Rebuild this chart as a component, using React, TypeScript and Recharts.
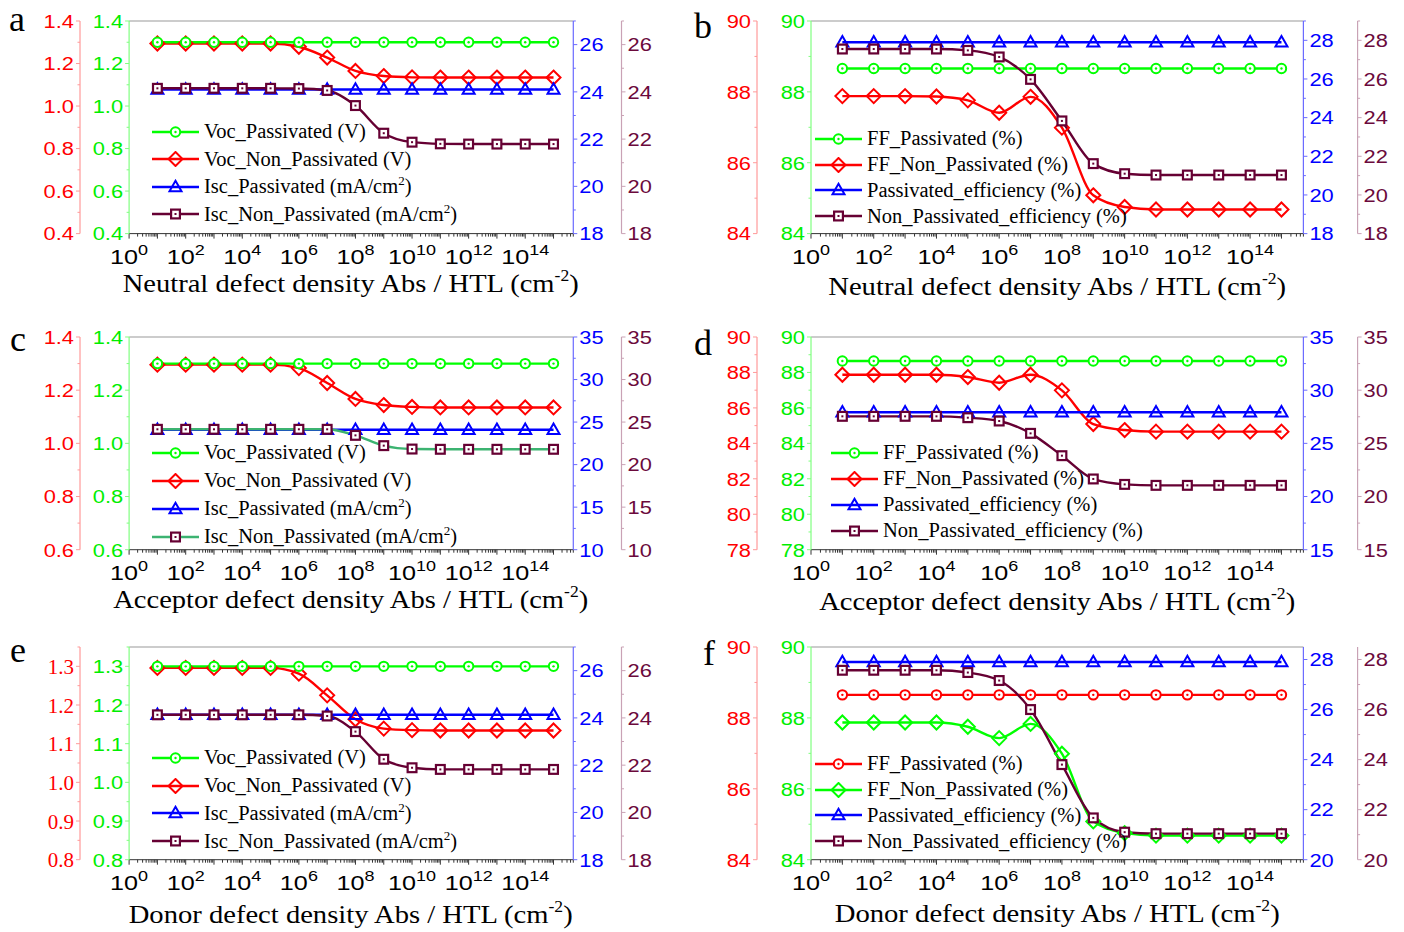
import React from 'react';
import { LineChart, Line, XAxis, YAxis, Legend, ReferenceLine } from 'recharts';

const SANS = '"Liberation Sans", Arial, sans-serif';
const SERIF = '"Liberation Serif", "Times New Roman", serif';

const RED = '#ff0000';
const GREEN = '#00ff00';
const BLUE = '#0000ff';
const WINE = '#660033';
const TEAL = '#3cb371';

// defect density (cm^-2), one point per decade
const densities = [1e1, 1e2, 1e3, 1e4, 1e5, 1e6, 1e7, 1e8, 1e9, 1e10, 1e11, 1e12, 1e13, 1e14, 1e15];
const xLabelExponents = [0, 2, 4, 6, 8, 10, 12, 14];
const X_MAX = 5e15;

// a: neutral defects
const vocPassA = [1.3, 1.3, 1.3, 1.3, 1.3, 1.3, 1.3, 1.3, 1.3, 1.3, 1.3, 1.3, 1.3, 1.3, 1.3];
const vocNonA = [1.294, 1.294, 1.294, 1.294, 1.294, 1.279, 1.228, 1.165, 1.141, 1.135, 1.134, 1.134, 1.134, 1.134, 1.134];
const iscPassA = [24.1, 24.1, 24.1, 24.1, 24.1, 24.1, 24.1, 24.1, 24.1, 24.1, 24.1, 24.1, 24.1, 24.1, 24.1];
const iscNonA = [24.15, 24.15, 24.15, 24.15, 24.15, 24.14, 24.06, 23.42, 22.25, 21.87, 21.8, 21.79, 21.79, 21.79, 21.79];

// b: neutral defects
const ffPassB = [88.66, 88.66, 88.66, 88.66, 88.66, 88.66, 88.66, 88.66, 88.66, 88.66, 88.66, 88.66, 88.66, 88.66, 88.66];
const ffNonB = [87.88, 87.88, 87.88, 87.87, 87.76, 87.41, 87.86, 86.99, 85.08, 84.75, 84.68, 84.68, 84.68, 84.68, 84.68];
const effPassB = [27.9, 27.9, 27.9, 27.9, 27.9, 27.9, 27.9, 27.9, 27.9, 27.9, 27.9, 27.9, 27.9, 27.9, 27.9];
const effNonB = [27.55, 27.55, 27.55, 27.55, 27.48, 27.14, 25.98, 23.83, 21.62, 21.1, 21.03, 21.03, 21.03, 21.03, 21.03];

// c: acceptor defects
const vocPassC = [1.3, 1.3, 1.3, 1.3, 1.3, 1.3, 1.3, 1.3, 1.3, 1.3, 1.3, 1.3, 1.3, 1.3, 1.3];
const vocNonC = [1.296, 1.296, 1.296, 1.296, 1.296, 1.283, 1.227, 1.167, 1.144, 1.137, 1.135, 1.135, 1.135, 1.135, 1.135];
const iscPassC = [24.1, 24.1, 24.1, 24.1, 24.1, 24.1, 24.1, 24.1, 24.1, 24.1, 24.1, 24.1, 24.1, 24.1, 24.1];
const iscNonC = [24.15, 24.15, 24.15, 24.15, 24.15, 24.15, 24.15, 23.44, 22.23, 21.83, 21.8, 21.8, 21.8, 21.8, 21.8];

// d: acceptor defects
const ffPassD = [88.65, 88.65, 88.65, 88.65, 88.65, 88.65, 88.65, 88.65, 88.65, 88.65, 88.65, 88.65, 88.65, 88.65, 88.65];
const ffNonD = [87.87, 87.87, 87.87, 87.87, 87.74, 87.42, 87.87, 86.99, 85.09, 84.75, 84.66, 84.66, 84.66, 84.66, 84.66];
const effPassD = [27.92, 27.92, 27.92, 27.92, 27.92, 27.92, 27.92, 27.92, 27.92, 27.92, 27.92, 27.92, 27.92, 27.92, 27.92];
const effNonD = [27.54, 27.54, 27.54, 27.54, 27.41, 27.1, 25.94, 23.84, 21.65, 21.14, 21.05, 21.05, 21.05, 21.05, 21.05];

// e: donor defects
const vocPassE = [1.3, 1.3, 1.3, 1.3, 1.3, 1.3, 1.3, 1.3, 1.3, 1.3, 1.3, 1.3, 1.3, 1.3, 1.3];
const vocNonE = [1.296, 1.296, 1.296, 1.296, 1.296, 1.281, 1.225, 1.163, 1.139, 1.135, 1.134, 1.134, 1.134, 1.134, 1.134];
const iscPassE = [24.13, 24.13, 24.13, 24.13, 24.13, 24.13, 24.13, 24.13, 24.13, 24.13, 24.13, 24.13, 24.13, 24.13, 24.13];
const iscNonE = [24.13, 24.13, 24.13, 24.13, 24.13, 24.13, 24.08, 23.42, 22.25, 21.89, 21.82, 21.82, 21.82, 21.82, 21.82];

// f: donor defects
const ffPassF = [88.65, 88.65, 88.65, 88.65, 88.65, 88.65, 88.65, 88.65, 88.65, 88.65, 88.65, 88.65, 88.65, 88.65, 88.65];
const ffNonF = [87.87, 87.87, 87.87, 87.87, 87.75, 87.43, 87.83, 86.99, 85.08, 84.75, 84.68, 84.68, 84.68, 84.68, 84.68];
const effPassF = [27.9, 27.9, 27.9, 27.9, 27.9, 27.9, 27.9, 27.9, 27.9, 27.9, 27.9, 27.9, 27.9, 27.9, 27.9];
const effNonF = [27.57, 27.57, 27.57, 27.57, 27.48, 27.16, 26.0, 23.8, 21.67, 21.1, 21.04, 21.04, 21.04, 21.04, 21.04];

type AxisId = 'red' | 'green' | 'blue' | 'wine';
type Shape = 'circle' | 'diamond' | 'triangle' | 'square';

interface Series {
  key: string;
  name: string;
  sup?: string;
  tail?: string;
  values: number[];
  axis: AxisId;
  color: string;
  markColor?: string;
  shape: Shape;
}

interface AxisCfg {
  domain: [number, number];
  majors: number[];
  digits: number;
  serif?: boolean;
}

const AXIS_STYLE: Record<AxisId, { line: string; text: string }> = {
  red: { line: '#ff9a9a', text: RED },
  green: { line: '#80ff80', text: '#00ee00' },
  blue: { line: '#6a6aff', text: BLUE },
  wine: { line: '#c9a2b5', text: '#6b0a3c' },
};

function minorTicks(cfg: AxisCfg): number[] {
  const m = cfg.majors;
  const step = m[1] - m[0];
  const out: number[] = [];
  m.forEach((v) => {
    out.push(v);
    if (v + step / 2 <= cfg.domain[1] + 1e-9) out.push(+(v + step / 2).toFixed(4));
  });
  return out;
}

const xTicks: number[] = [];
for (let e = 0; e <= 15; e++) {
  for (let k = 1; k <= 9; k++) {
    const v = k * Math.pow(10, e);
    if (v <= X_MAX) xTicks.push(v);
  }
}

function Marker({ shape, cx, cy, color }: { shape: Shape; cx: number; cy: number; color: string }) {
  if (shape === 'circle') {
    return (
      <g>
        <circle cx={cx} cy={cy} r={4.7} fill="#fff" stroke={color} strokeWidth={2} />
        <circle cx={cx} cy={cy} r={1.2} fill={color} />
      </g>
    );
  }
  if (shape === 'diamond') {
    const d = 7;
    return (
      <polygon
        points={`${cx},${cy - d} ${cx + d},${cy} ${cx},${cy + d} ${cx - d},${cy}`}
        fill="none"
        stroke={color}
        strokeWidth={2}
      />
    );
  }
  if (shape === 'triangle') {
    return (
      <polygon
        points={`${cx},${cy - 6.2} ${cx + 6},${cy + 4.2} ${cx - 6},${cy + 4.2}`}
        fill="none"
        stroke={color}
        strokeWidth={2}
      />
    );
  }
  return (
    <g>
      <rect x={cx - 4.4} y={cy - 4.4} width={8.8} height={8.8} fill="#fff" stroke={color} strokeWidth={2.2} />
      <rect x={cx - 1} y={cy - 1} width={2} height={2} fill={color} />
    </g>
  );
}

function makeYTick(side: 'left' | 'right', cfg: AxisCfg, id: AxisId) {
  const st = AXIS_STYLE[id];
  return (props: any) => {
    const { x, y, payload } = props;
    const v = payload.value as number;
    const major = cfg.majors.some((m) => Math.abs(m - v) < 1e-6);
    const len = major ? 4 : 2.5;
    const dir = side === 'left' ? -1 : 1;
    const tx = x + dir * (len + 2);
    return (
      <g>
        <line x1={x} x2={x + dir * len} y1={y} y2={y} stroke={st.line} strokeWidth={1} />
        {major && (
          <text
            transform={`translate(${tx},${y}) scale(${cfg.serif ? 1 : 1.15},1)`}
            x={0}
            y={0}
            dy="0.36em"
            textAnchor={side === 'left' ? 'end' : 'start'}
            fill={st.text}
            fontFamily={cfg.serif ? SERIF : SANS}
            fontSize={cfg.serif ? 21 : 19}
          >
            {v.toFixed(cfg.digits)}
          </text>
        )}
      </g>
    );
  };
}

const XTick = (props: any) => {
  const { x, y, payload } = props;
  const v = payload.value as number;
  const e = Math.log10(v);
  const exp = Math.round(e);
  const decade = Math.abs(e - exp) < 1e-6;
  const labelled = decade && xLabelExponents.includes(exp);
  return (
    <g>
      <line x1={x} x2={x} y1={y} y2={y + (decade ? 5 : 3)} stroke="#333" strokeWidth={1} />
      {labelled && (
        <text
          transform={`translate(${x},${y + 30}) scale(1.2,1)`}
          x={0}
          y={0}
          textAnchor="middle"
          fontFamily={SANS}
          fontSize={21}
          fill="#000"
        >
          10
          <tspan dy={-9} fontSize={15}>
            {exp}
          </tspan>
        </text>
      )}
    </g>
  );
};

function LegendBox({ series, gap }: { series: Series[]; gap: number }) {
  return (
    <div style={{ fontFamily: SERIF, fontSize: 20.5, color: '#000' }}>
      {series.map((s) => (
        <div key={s.key} style={{ display: 'flex', alignItems: 'center', height: gap, whiteSpace: 'nowrap' }}>
          <svg width={47} height={16} style={{ flex: 'none' }}>
            <line x1={0} x2={47} y1={8} y2={8} stroke={s.color} strokeWidth={2.4} />
            <Marker shape={s.shape} cx={23.5} cy={8} color={s.markColor || s.color} />
          </svg>
          <span style={{ marginLeft: 5 }}>
            {s.name}
            {s.sup && <span style={{ fontSize: 13, verticalAlign: 'super', lineHeight: 0 }}>{s.sup}</span>}
            {s.tail}
          </span>
        </div>
      ))}
    </div>
  );
}

interface PanelCfg {
  letter: string;
  letterPos: [number, number];
  title: string;
  titleY: number;
  titleW: number;
  redX: number;
  plotL: number;
  plotR: number;
  wineX: number;
  plotT: number;
  plotB: number;
  axes: Record<AxisId, AxisCfg>;
  series: Series[];
  order: number[];
  legend: { x: number; y: number; gap: number };
}

const LEFT = { redX: 79.5, plotL: 128.6, plotR: 572.8, wineX: 621 };
const RIGHT = { redX: 757, plotL: 811, plotR: 1303.4, wineX: 1357.6 };

const vocSeries = (vp: number[], vn: number[], ip: number[], inn: number[], iscLine: string): Series[] => [
  { key: 's0', name: 'Voc_Passivated (V)', values: vp, axis: 'green', color: GREEN, shape: 'circle' },
  { key: 's1', name: 'Voc_Non_Passivated (V)', values: vn, axis: 'red', color: RED, shape: 'diamond' },
  { key: 's2', name: 'Isc_Passivated (mA/cm', sup: '2', tail: ')', values: ip, axis: 'blue', color: BLUE, shape: 'triangle' },
  {
    key: 's3',
    name: 'Isc_Non_Passivated (mA/cm',
    sup: '2',
    tail: ')',
    values: inn,
    axis: 'wine',
    color: iscLine,
    markColor: WINE,
    shape: 'square',
  },
];

const ffSeries = (fp: number[], fn: number[], ep: number[], en: number[], swap: boolean): Series[] => [
  {
    key: 's0',
    name: 'FF_Passivated (%)',
    values: fp,
    axis: swap ? 'red' : 'green',
    color: swap ? RED : GREEN,
    shape: 'circle',
  },
  {
    key: 's1',
    name: 'FF_Non_Passivated (%)',
    values: fn,
    axis: swap ? 'green' : 'red',
    color: swap ? GREEN : RED,
    shape: 'diamond',
  },
  { key: 's2', name: 'Passivated_efficiency (%)', values: ep, axis: 'blue', color: BLUE, shape: 'triangle' },
  { key: 's3', name: 'Non_Passivated_efficiency (%)', values: en, axis: 'wine', color: WINE, shape: 'square' },
];

const same = (cfg: AxisCfg, cfg2: AxisCfg, redCfg?: AxisCfg): Record<AxisId, AxisCfg> => ({
  red: redCfg || cfg,
  green: cfg,
  blue: cfg2,
  wine: cfg2,
});

const panels: PanelCfg[] = [
  {
    letter: 'a',
    letterPos: [9, 31],
    title: 'Neutral defect density Abs / HTL (cm',
    titleY: 292,
    titleW: 456,
    ...LEFT,
    plotT: 20.7,
    plotB: 233.3,
    axes: same(
      { domain: [0.4, 1.4], majors: [0.4, 0.6, 0.8, 1.0, 1.2, 1.4], digits: 1 },
      { domain: [18, 27], majors: [18, 20, 22, 24, 26], digits: 0 }
    ),
    series: vocSeries(vocPassA, vocNonA, iscPassA, iscNonA, WINE),
    order: [1, 0, 2, 3],
    legend: { x: 152, y: 132, gap: 27.5 },
  },
  {
    letter: 'b',
    letterPos: [694, 38],
    title: 'Neutral defect density Abs / HTL (cm',
    titleY: 295,
    titleW: 458,
    ...RIGHT,
    plotT: 20.7,
    plotB: 233.3,
    axes: same(
      { domain: [84, 90], majors: [84, 86, 88, 90], digits: 0 },
      { domain: [18, 29], majors: [18, 20, 22, 24, 26, 28], digits: 0 }
    ),
    series: ffSeries(ffPassB, ffNonB, effPassB, effNonB, false),
    order: [0, 1, 2, 3],
    legend: { x: 815, y: 139, gap: 25.7 },
  },
  {
    letter: 'c',
    letterPos: [10, 351],
    title: 'Acceptor defect density Abs / HTL (cm',
    titleY: 608,
    titleW: 475,
    ...LEFT,
    plotT: 337.3,
    plotB: 550,
    axes: same(
      { domain: [0.6, 1.4], majors: [0.6, 0.8, 1.0, 1.2, 1.4], digits: 1 },
      { domain: [10, 35], majors: [10, 15, 20, 25, 30, 35], digits: 0 }
    ),
    series: vocSeries(vocPassC, vocNonC, iscPassC, iscNonC, TEAL),
    order: [1, 0, 2, 3],
    legend: { x: 152, y: 453, gap: 28 },
  },
  {
    letter: 'd',
    letterPos: [694, 355],
    title: 'Acceptor defect density Abs / HTL (cm',
    titleY: 610,
    titleW: 476,
    ...RIGHT,
    plotT: 337.3,
    plotB: 550,
    axes: same(
      { domain: [78, 90], majors: [78, 80, 82, 84, 86, 88, 90], digits: 0 },
      { domain: [15, 35], majors: [15, 20, 25, 30, 35], digits: 0 }
    ),
    series: ffSeries(ffPassD, ffNonD, effPassD, effNonD, false),
    order: [0, 1, 2, 3],
    legend: { x: 831, y: 453, gap: 26 },
  },
  {
    letter: 'e',
    letterPos: [10, 662],
    title: 'Donor defect density Abs / HTL (cm',
    titleY: 923,
    titleW: 444,
    ...LEFT,
    plotT: 647.3,
    plotB: 860,
    axes: same(
      { domain: [0.8, 1.35], majors: [0.8, 0.9, 1.0, 1.1, 1.2, 1.3], digits: 1 },
      { domain: [18, 27], majors: [18, 20, 22, 24, 26], digits: 0 },
      { domain: [0.8, 1.35], majors: [0.8, 0.9, 1.0, 1.1, 1.2, 1.3], digits: 1, serif: true }
    ),
    series: vocSeries(vocPassE, vocNonE, iscPassE, iscNonE, WINE),
    order: [1, 0, 2, 3],
    legend: { x: 152, y: 758, gap: 27.7 },
  },
  {
    letter: 'f',
    letterPos: [703, 665],
    title: 'Donor defect density Abs / HTL (cm',
    titleY: 922,
    titleW: 445,
    ...RIGHT,
    plotT: 647.3,
    plotB: 860,
    axes: same(
      { domain: [84, 90], majors: [84, 86, 88, 90], digits: 0 },
      { domain: [20, 28.5], majors: [20, 22, 24, 26, 28], digits: 0 }
    ),
    series: ffSeries(ffPassF, ffNonF, effPassF, effNonF, true),
    order: [0, 1, 2, 3],
    legend: { x: 815, y: 764, gap: 25.7 },
  },
];

function Panel({ p }: { p: PanelCfg }) {
  const cl = p.redX - 60;
  const ct = p.plotT - 20;
  const cw = p.wineX + 60 - cl;
  const ch = p.plotB + 72 - ct;
  const rows = densities.map((x, i) => {
    const r: Record<string, number> = { x };
    p.series.forEach((s) => {
      r[s.key] = s.values[i];
    });
    return r;
  });
  const yAxis = (id: AxisId, side: 'left' | 'right', width: number) => {
    const cfg = p.axes[id];
    return (
      <YAxis
        key={id}
        yAxisId={id}
        orientation={side}
        width={width}
        type="number"
        domain={cfg.domain}
        ticks={minorTicks(cfg)}
        interval={0}
        allowDataOverflow
        tickLine={false}
        tickSize={0}
        tickMargin={0}
        axisLine={{ stroke: AXIS_STYLE[id].line, strokeWidth: 1.2 }}
        tick={makeYTick(side, cfg, id)}
      />
    );
  };
  return (
    <div style={{ position: 'absolute', left: cl, top: ct }}>
      <LineChart width={cw} height={ch} data={rows} margin={{ top: 20, right: 0, bottom: 2, left: 0 }}>
        <XAxis
          dataKey="x"
          type="number"
          scale="log"
          domain={[1, X_MAX]}
          ticks={xTicks}
          interval={0}
          allowDataOverflow
          tickLine={false}
          tickSize={0}
          tickMargin={0}
          height={70}
          axisLine={{ stroke: '#333', strokeWidth: 1 }}
          tick={XTick}
        />
        {yAxis('green', 'left', p.plotL - p.redX)}
        {yAxis('red', 'left', 60)}
        {yAxis('blue', 'right', p.wineX - p.plotR)}
        {yAxis('wine', 'right', 60)}
        <ReferenceLine yAxisId="green" y={p.axes.green.domain[1]} stroke="#9a9a9a" strokeWidth={1.2} />
        {p.order.map((i) => {
          const s = p.series[i];
          return (
            <Line
              key={s.key}
              yAxisId={s.axis}
              dataKey={s.key}
              type="monotone"
              stroke={s.color}
              strokeWidth={2.4}
              isAnimationActive={false}
              activeDot={false}
              dot={(d: any) => (
                <Marker
                  key={`${s.key}-${d.index}`}
                  shape={s.shape}
                  cx={d.cx}
                  cy={d.cy}
                  color={s.markColor || s.color}
                />
              )}
            />
          );
        })}
        <Legend
          layout="vertical"
          align="center"
          verticalAlign="middle"
          wrapperStyle={{
            left: p.legend.x - cl,
            top: p.legend.y - p.legend.gap / 2 - ct,
            width: 340,
            height: p.legend.gap * 4,
          }}
          content={() => <LegendBox series={p.series} gap={p.legend.gap} />}
        />
      </LineChart>
    </div>
  );
}

export default function App() {
  return (
    <div style={{ position: 'absolute', left: 0, top: 0, width: 1404, height: 932, background: '#fff', overflow: 'hidden' }}>
      {panels.map((p) => (
        <Panel key={p.letter} p={p} />
      ))}
      <svg width={1404} height={932} style={{ position: 'absolute', left: 0, top: 0, pointerEvents: 'none' }}>
        {panels.map((p) => (
          <g key={p.letter}>
            <text x={p.letterPos[0]} y={p.letterPos[1]} fontFamily={SERIF} fontSize={36} fill="#000">
              {p.letter}
            </text>
            <text
              x={(p.plotL + p.plotR) / 2}
              y={p.titleY}
              textAnchor="middle"
              fontFamily={SERIF}
              fontSize={26}
              fill="#000"
              textLength={p.titleW}
              lengthAdjust="spacingAndGlyphs"
            >
              {p.title}
              <tspan dy={-11} fontSize={16}>
                -2
              </tspan>
              <tspan dy={11}>)</tspan>
            </text>
          </g>
        ))}
      </svg>
    </div>
  );
}
